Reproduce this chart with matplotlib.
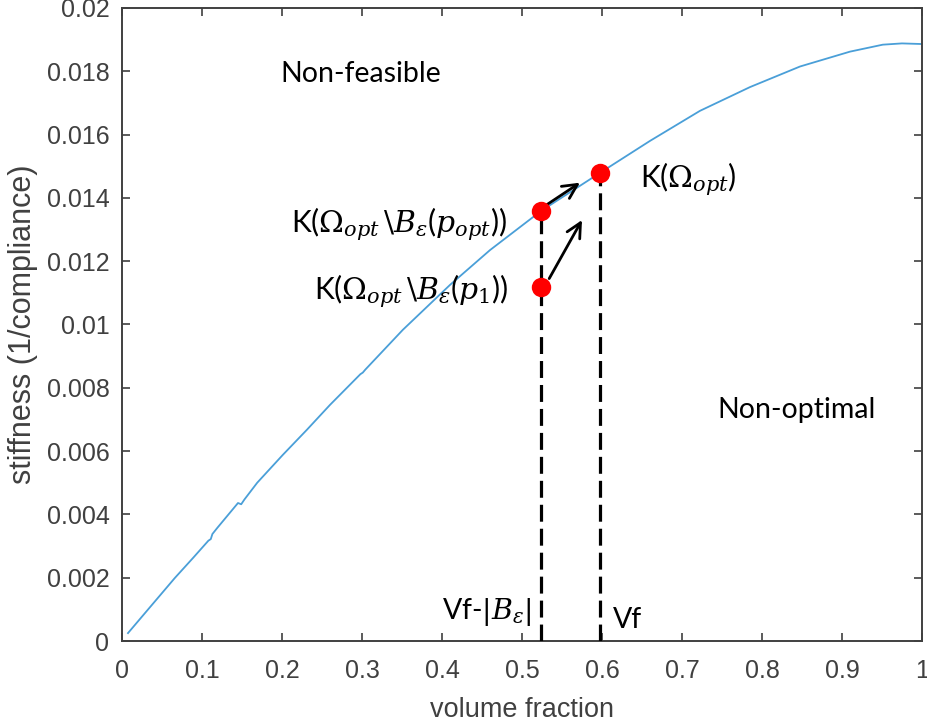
import numpy as np
import matplotlib
matplotlib.use('Agg')
import matplotlib.pyplot as plt

# stiffness curve
vf = [0.0075, 0.03, 0.066, 0.089, 0.108, 0.111, 0.113, 0.119, 0.145, 0.149,
      0.153, 0.169, 0.201, 0.231, 0.26, 0.298, 0.301, 0.304, 0.351, 0.41,
      0.46, 0.524, 0.5975, 0.66, 0.7225, 0.785, 0.8475, 0.91, 0.951, 0.975, 1.0]
stiff = [0.00025, 0.00092, 0.00199, 0.00263, 0.00317, 0.00322, 0.00338, 0.00357,
         0.00436, 0.00432, 0.00447, 0.0050, 0.00588, 0.00667, 0.00746, 0.00843,
         0.00848, 0.00857, 0.00983, 0.01125, 0.01235, 0.01359, 0.01479, 0.0158,
         0.01675, 0.0175, 0.01815, 0.01862, 0.01884, 0.01888, 0.01886]

# marked points
pt_x = [0.524, 0.5975, 0.524]
pt_y = [0.01359, 0.01479, 0.01119]

# arrows (start, end)
arrows = [((0.529, 0.01375), (0.5725, 0.01448)),
          ((0.534, 0.01145), (0.575, 0.01330))]

xticks = np.arange(0, 1.01, 0.1)
yticks = np.arange(0, 0.0201, 0.002)
xtick_labels = ['0', '0.1', '0.2', '0.3', '0.4', '0.5', '0.6', '0.7', '0.8', '0.9', '1']
ytick_labels = ['0', '0.002', '0.004', '0.006', '0.008', '0.01', '0.012',
                '0.014', '0.016', '0.018', '0.02']

plt.rcParams['mathtext.fontset'] = 'custom'
plt.rcParams['mathtext.rm'] = 'DejaVu Serif'
plt.rcParams['mathtext.it'] = 'DejaVu Serif:italic'
gray = '#404040'

fig = plt.figure(figsize=(9.27, 7.23), dpi=100)
ax = fig.add_axes([0.1316, 0.1134, 0.863, 0.8756])

ax.plot(vf, stiff, color='#4a9fd8', lw=1.3, zorder=2)

# dashed verticals down to the axis
for x, y in [(pt_x[0], pt_y[0]), (pt_x[1], pt_y[1])]:
    ax.plot([x, x], [0, y], color='k', lw=2.3, dashes=(5.3, 2.2), zorder=3)

for (x0, y0), (x1, y1) in arrows:
    ax.annotate('', xy=(x1, y1), xytext=(x0, y0),
                arrowprops=dict(arrowstyle='->', color='k', lw=2.0,
                                mutation_scale=26, shrinkA=0, shrinkB=0),
                zorder=4)

ax.plot(pt_x, pt_y, 'o', color='#ff0000', ms=14, mec='none', zorder=5)

tfont = dict(family=['Lato', 'DejaVu Sans'], fontsize=20.5, color='k')
mfont = dict(family=['Lato', 'DejaVu Sans'], fontsize=21.5, color='k')
ax.text(0.1975, 0.0179, 'Non-feasible', va='center', ha='left', **tfont)
ax.text(0.744, 0.0073, 'Non-optimal', va='center', ha='left', **tfont)
ax.text(0.6475, 0.01458, r'K($\Omega_{opt}$)', va='center', ha='left', **mfont)
ax.text(0.481, 0.01318, r'K($\Omega_{opt}\,\backslash B_{\varepsilon}$($p_{opt}$))',
        va='center', ha='right', **mfont)
ax.text(0.483, 0.01105, r'K($\Omega_{opt}\,\backslash B_{\varepsilon}$($p_{1}$))',
        va='center', ha='right', **mfont)
ax.text(0.4, 0.00092, r'Vf-$|B_{\varepsilon}|$', va='center', ha='left', **tfont)
ax.text(0.614, 0.00065, 'Vf', va='center', ha='left', **tfont)

ax.set_xlim(0, 1)
ax.set_ylim(0, 0.02)
ax.set_xticks(xticks)
ax.set_xticklabels(xtick_labels)
ax.set_yticks(yticks)
ax.set_yticklabels(ytick_labels)

for lab in ax.get_xticklabels() + ax.get_yticklabels():
    lab.set_family('Liberation Sans')
ax.tick_params(axis='both', direction='in', length=6, width=1.2, colors=gray,
               labelsize=18, top=True, right=True)
ax.tick_params(axis='x', pad=13)
ax.tick_params(axis='y', pad=9)
for s in ax.spines.values():
    s.set_color(gray)
    s.set_linewidth(1.4)

ax.set_xlabel('volume fraction', fontsize=19.5, color=gray, family='Liberation Sans', labelpad=10)
ax.set_ylabel('stiffness (1/compliance)', fontsize=22, color=gray, family='Liberation Sans', labelpad=6)

fig.savefig('out.png', dpi=100)
